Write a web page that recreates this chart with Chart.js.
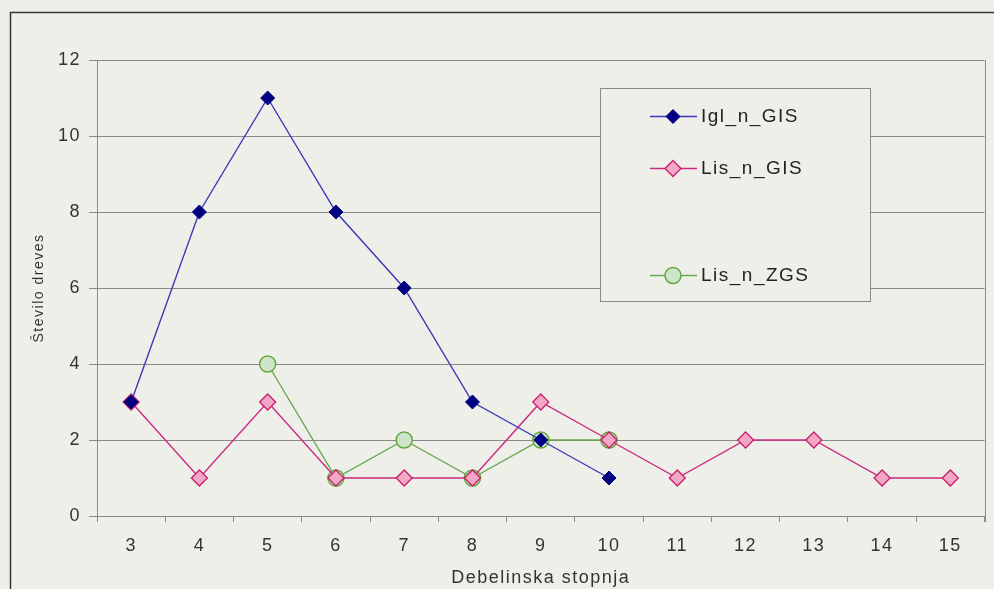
<!DOCTYPE html>
<html>
<head>
<meta charset="utf-8">
<script src="https://cdn.jsdelivr.net/npm/chart.js@4.4.1/dist/chart.umd.min.js"></script>
<style>
  html,body{margin:0;padding:0;background:#efefea;}
  #wrap{width:994px;height:589px;position:relative;}
</style>
</head>
<body>
<div id="wrap"><canvas id="c" width="994" height="589"></canvas></div>
<script>
// data
const stopnje = ['3','4','5','6','7','8','9','10','11','12','13','14','15'];
const iglGIS = [3, 8, 11, 8, 6, 3, 2, 1, null, null, null, null, null];
const lisGIS = [3, 1, 3, 1, 1, 1, 3, 2, 1, 2, 2, 1, 1];
const lisZGS = [null, null, 4, 1, 2, 1, 2, 2, null, null, null, null, null];
const yTicks = [0, 2, 4, 6, 8, 10, 12];

const FONT = 'Liberation Sans, Arial, sans-serif';

// frame, right border and legend box drawn on the canvas
const framePlugin = {
  id: 'frame',
  beforeDraw(chart){
    const ctx = chart.ctx;
    ctx.save();
    ctx.fillStyle = '#efefea';
    ctx.fillRect(0, 0, chart.width, chart.height);
    ctx.strokeStyle = '#333';
    ctx.lineWidth = 1.5;
    ctx.strokeRect(10.5, 12.5, 1100, 1100);
    ctx.restore();
    // the scanned original has wide letter spacing
    ctx.letterSpacing = '1.5px';
  },
  afterDraw(chart){
    const ctx = chart.ctx;
    const a = chart.chartArea;
    ctx.save();
    ctx.strokeStyle = '#8a8a8a';
    ctx.lineWidth = 1;
    ctx.beginPath();
    ctx.moveTo(Math.round(a.right) + 0.5, a.top);
    ctx.lineTo(Math.round(a.right) + 0.5, a.bottom + 6);
    ctx.stroke();

    // legend
    ctx.fillStyle = '#efefea';
    ctx.fillRect(600, 88, 270, 213);
    ctx.strokeRect(600.5, 88.5, 270, 213);
    const rows = [116, 168, 275];
    chart.data.datasets.forEach((ds, i) => {
      const y = rows[i];
      ctx.strokeStyle = ds.borderColor;
      ctx.lineWidth = 1.5;
      ctx.beginPath();
      ctx.moveTo(650, y + 0.5);
      ctx.lineTo(697, y + 0.5);
      ctx.stroke();
      ctx.fillStyle = ds.pointBackgroundColor;
      ctx.strokeStyle = ds.pointBorderColor;
      ctx.lineWidth = ds.pointBorderWidth;
      Chart.helpers.drawPoint(ctx, {
        pointStyle: ds.pointStyle, radius: ds.pointRadius, borderWidth: ds.pointBorderWidth
      }, 673, y + 0.5);
      ctx.fillStyle = '#222';
      ctx.font = '19px ' + FONT;
      ctx.letterSpacing = '1.5px';
      ctx.textBaseline = 'middle';
      ctx.fillText(ds.label, 701, y + 1);
    });
    ctx.restore();
  }
};

new Chart(document.getElementById('c'), {
  type: 'line',
  data: {
    labels: stopnje,
    datasets: [
      {
        label: 'Igl_n_GIS',
        data: iglGIS,
        borderColor: '#3a3ab8',
        borderWidth: 1.4,
        pointStyle: 'rectRot',
        pointRadius: 7,
        pointBackgroundColor: '#000080',
        pointBorderColor: '#000080',
        pointBorderWidth: 1,
        tension: 0
      },
      {
        label: 'Lis_n_GIS',
        data: lisGIS,
        borderColor: '#cc2a80',
        borderWidth: 1.4,
        pointStyle: 'rectRot',
        pointRadius: 8,
        pointBackgroundColor: '#f2a8c4',
        pointBorderColor: '#c8206e',
        pointBorderWidth: 1.3,
        tension: 0
      },
      {
        label: 'Lis_n_ZGS',
        data: lisZGS,
        borderColor: '#6aa84f',
        borderWidth: 1.4,
        pointStyle: 'circle',
        pointRadius: 8,
        pointBackgroundColor: '#cfe5cb',
        pointBorderColor: '#62a83a',
        pointBorderWidth: 1.5,
        tension: 0
      }
    ]
  },
  options: {
    responsive: false,
    animation: false,
    spanGaps: false,
    layout: {padding: {left: 0, top: 60, right: 7, bottom: 0}},
    plugins: {
      legend: {display: false},
      tooltip: {enabled: false}
    },
    scales: {
      x: {
        offset: true,
        afterFit(s){ s.height = 73; },
        grid: {
          display: true,
          offset: true,
          drawOnChartArea: false,
          tickLength: 6,
          color: '#8a8a8a'
        },
        border: {color: '#8a8a8a', width: 1},
        ticks: {color: '#333', font: {family: FONT, size: 18}, padding: 13, maxRotation: 0},
        title: {
          display: true,
          text: 'Debelinska stopnja',
          color: '#333',
          font: {family: FONT, size: 18},
          padding: {top: 0, bottom: 0}
        }
      },
      y: {
        min: 0,
        max: 12,
        afterFit(s){ s.width = 97; },
        afterBuildTicks(s){ s.ticks = yTicks.map(v => ({value: v})); },
        grid: {color: '#8a8a8a', tickLength: 8, lineWidth: 1},
        border: {color: '#8a8a8a', width: 1},
        ticks: {color: '#333', font: {family: FONT, size: 18}, padding: 8},
        title: {
          display: true,
          text: 'Število dreves',
          color: '#333',
          font: {family: FONT, size: 14},
          padding: {top: 31, bottom: 0}
        }
      }
    }
  },
  plugins: [framePlugin]
});
</script>
</body>
</html>
